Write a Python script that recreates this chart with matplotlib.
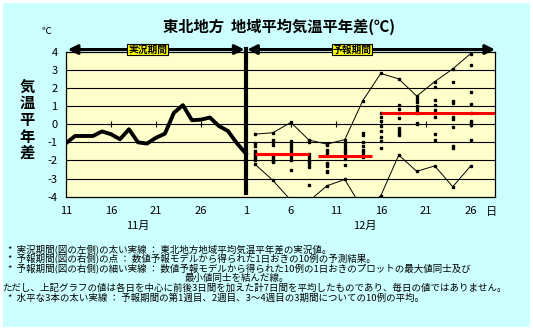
import numpy as np
import matplotlib.pyplot as plt
from matplotlib.patches import Rectangle

plt.rcParams['font.family'] = ['Noto Sans CJK JP', 'DejaVu Sans']
plt.rcParams['axes.unicode_minus'] = False

# 実況値 (11月11日 = 0日目 から 12月1日 = 20日目)
obs_day = np.arange(0, 21)
obs_val = [-1.05, -0.65, -0.65, -0.65, -0.4, -0.55, -0.83, -0.28, -1.0, -1.07,
           -0.75, -0.52, 0.63, 1.05, 0.22, 0.25, 0.37, -0.1, -0.37, -1.05, -1.62]

# 予報 10例 (12月2日から1日おき)
fc_day = np.arange(21, 46, 2)
fc_members = [
    [-0.55, -1.05, -1.2, -1.5, -1.6, -1.7, -1.8, -1.9, -2.0, -2.2],
    [-0.47, -0.85, -1.0, -1.15, -1.75, -1.85, -1.95, -2.05, -2.1, -3.1],
    [0.1, -0.9, -1.1, -1.25, -1.4, -1.6, -1.8, -1.95, -2.5, -4.2],
    [-0.87, -1.0, -1.65, -1.8, -1.95, -2.1, -2.2, -2.35, -3.35, -4.25],
    [-1.1, -1.15, -1.4, -1.6, -2.15, -2.2, -2.3, -2.6, -2.65, -3.4],
    [-0.85, -1.05, -1.2, -1.35, -1.5, -1.6, -1.75, -1.9, -2.25, -3.05],
    [1.3, -0.5, -0.6, -1.0, -1.2, -1.4, -1.55, -1.7, -1.8, -4.7],
    [2.8, 0.6, 0.4, 0.2, -0.1, -0.4, -0.7, -0.95, -1.3, -3.95],
    [2.5, 1.05, 0.85, 0.6, 0.35, -0.2, -0.35, -0.5, -0.6, -1.7],
    [1.55, 1.4, 1.2, 1.0, 0.85, 0.7, 0.6, 0.05, 0.0, -2.6],
    [2.35, 2.05, 1.35, 1.05, 0.8, 0.6, 0.4, -0.55, -0.85, -2.3],
    [3.05, 2.35, 1.3, 1.15, 0.4, 0.3, -0.15, -1.2, -1.3, -3.45],
    [3.9, 3.25, 1.75, 1.1, 0.6, 0.2, 0.05, -0.05, -0.85, -2.3],
]

# 第1週、第2週、第3~4週の平均
mean_start = [21, 28, 35]
mean_end = [27, 34, 48]
mean_val = [-1.63, -1.74, 0.63]

tick_day = [0, 5, 10, 15, 20, 25, 30, 35, 40, 45]
tick_label = ['11', '16', '21', '26', '1', '6', '11', '16', '21', '26']

notes = [
    (8, 250, '*  実況期間(図の左側)の太い実線 ： 東北地方地域平均気温平年差の実況値。'),
    (8, 259.6, '*  予報期間(図の右側)の点 ： 数値予報モデルから得られた1日おきの10例の予測結果。'),
    (8, 269.2, '*  予報期間(図の右側)の細い実線 ： 数値予報モデルから得られた10例の1日おきのプロットの最大値同士及び'),
    (185, 278.8, '最小値同士を結んだ線。'),
    (2, 288.4, 'ただし、上記グラフの値は各日を中心に前後3日間を加えた計7日間を平均したものであり、毎日の値ではありません。'),
    (8, 298, '*  水平な3本の太い実線 ： 予報期間の第1週目、2週目、3～4週目の3期間についての10例の平均。'),
]

W, H = 533, 332
fig = plt.figure(figsize=(W / 100, H / 100), dpi=100)
fig.patch.set_facecolor('white')
fig.patches.append(Rectangle((3 / W, 1 - 327 / H), 527 / W, 324 / H, transform=fig.transFigure,
                             facecolor='#CCFFFF', edgecolor='none', zorder=-10))

ax = fig.add_axes([66 / W, 1 - 196.7 / H, (495 - 66) / W, 145 / H])
ax.set_facecolor('#FFFFCC')
ax.set_xlim(0, 47.7)
ax.set_ylim(-4, 4)
for v in range(-3, 4):
    ax.axhline(v, color='black', lw=0.8, zorder=1)
for s in ax.spines.values():
    s.set_linewidth(0.9)

ax.set_yticks(range(-4, 5))
ax.tick_params(axis='y', length=0, pad=6, labelsize=8)
ax.set_xticks(tick_day)
ax.set_xticklabels(tick_label)
ax.tick_params(axis='x', length=0, pad=7, labelsize=8)

# ゼロ線上の目盛
zero_ticks = [d for d in tick_day if d not in (0, 20)]
ax.vlines(zero_ticks, -0.17, 0.17, color='black', lw=0.8, zorder=2)

ax.plot(obs_day, obs_val, color='black', lw=2.8, zorder=4)

for d, m in zip(fc_day, fc_members):
    ax.plot([d] * len(m), m, 's', ms=1.6, color='black', zorder=3)
fc_max = [max(m) for m in fc_members]
fc_min = [min(m) for m in fc_members]
ax.plot(fc_day, fc_max, color='black', lw=0.7, zorder=3)
ax.plot(fc_day, fc_min, color='black', lw=0.7, zorder=3)

ax.hlines(mean_val, mean_start, mean_end, color='#FF0000', lw=2.2, zorder=4)

ax.axvline(20, ymin=0.0276, ymax=1.02, color='black', lw=3, clip_on=False, zorder=5)

# 期間を示す矢印
arr = dict(arrowstyle='<|-|>', color='black', lw=2.2, mutation_scale=14, shrinkA=0, shrinkB=0)
ax.annotate('', xy=(0.2, 4.12), xytext=(19.85, 4.12), arrowprops=arr, annotation_clip=False)
ax.annotate('', xy=(20.15, 4.12), xytext=(47.7, 4.12), arrowprops=arr, annotation_clip=False)
box = dict(boxstyle='square,pad=0.1', fc='#FFFF00', ec='black', lw=0.8)
ax.text(9.1, 4.12, '実況期間', ha='center', va='center', fontsize=7, fontweight='bold',
        bbox=box, clip_on=False, zorder=6)
ax.text(31.8, 4.12, '予報期間', ha='center', va='center', fontsize=7, fontweight='bold',
        bbox=box, clip_on=False, zorder=6)

def px(x, y):
    return x / W, 1 - y / H

fig.text(*px(279, 27), '東北地方  地域平均気温平年差(℃)', ha='center', va='center',
         fontsize=11, fontweight='bold')
fig.text(*px(46, 31), '℃', ha='center', va='center', fontsize=7)
for ch, y in zip('気温平年差', [87, 103, 120, 137, 153]):
    fig.text(*px(27, y), ch, ha='center', va='center', fontsize=11, fontweight='bold')
fig.text(*px(492, 211.7), '日', ha='center', va='center', fontsize=8)
fig.text(*px(138, 226), '11月', ha='center', va='center', fontsize=8)
fig.text(*px(365, 226), '12月', ha='center', va='center', fontsize=8)

for x, y, s in notes:
    fig.text(*px(x, y), s, ha='left', va='center', fontsize=6.8)

fig.savefig('out.png', dpi=100, facecolor=fig.get_facecolor())
